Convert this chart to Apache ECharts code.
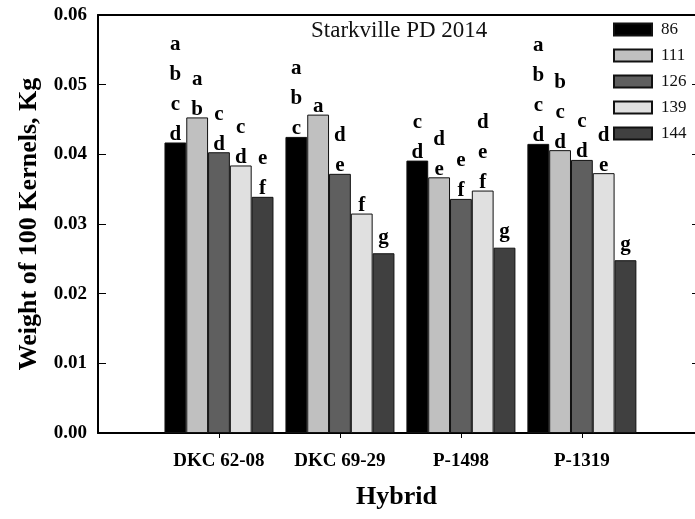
<!DOCTYPE html>
<html>
<head>
<meta charset="utf-8">
<script src="https://cdn.jsdelivr.net/npm/echarts@6/dist/echarts.min.js"></script>
<style>
html,body{margin:0;padding:0;background:#fff;}
#chart{width:695px;height:519px;}
</style>
</head>
<body>
<div id="chart"></div>
<script>
// ---- data ----
const categories = ['DKC 62-08', 'DKC 69-29', 'P-1498', 'P-1319'];
const seriesNames = ['86', '111', '126', '139', '144'];
const weight86  = [0.0417, 0.0425, 0.0391, 0.0415];
const weight111 = [0.0453, 0.0457, 0.0367, 0.0406];
const weight126 = [0.0403, 0.0372, 0.0336, 0.0392];
const weight139 = [0.0384, 0.0315, 0.0348, 0.0373];
const weight144 = [0.0339, 0.0258, 0.0266, 0.0248];
const letters86  = ['abcd', 'abc', 'cd', 'abcd'];
const letters111 = ['ab', 'a', 'de', 'bcd'];
const letters126 = ['cd', 'de', 'ef', 'cd'];
const letters139 = ['cd', 'f', 'def', 'de'];
const letters144 = ['ef', 'g', 'g', 'g'];
const yTicks = [0, 0.01, 0.02, 0.03, 0.04, 0.05, 0.06];

const values = [weight86, weight111, weight126, weight139, weight144];
const letters = [letters86, letters111, letters126, letters139, letters144];
const colors = ['#000000', '#c0c0c0', '#5f5f5f', '#e0e0e0', '#404040'];
const serif = "'Liberation Serif','Times New Roman',serif";
const catPos = categories.map((c, i) => i + 1);

const chart = echarts.init(document.getElementById('chart'), null, {renderer: 'canvas'});

const series = seriesNames.map((name, s) => ({
  name: name,
  type: 'bar',
  xAxisIndex: 0,
  yAxisIndex: 0,
  barWidth: 21.8,
  barGap: '0%',
  itemStyle: {color: colors[s], borderColor: '#111', borderWidth: 1},
  label: {
    show: true,
    position: 'top',
    distance: -7,
    fontFamily: serif,
    fontWeight: 'bold',
    fontSize: 21,
    lineHeight: 30,
    color: '#000',
    formatter: p => letters[s][p.dataIndex].split('').join('\n')
  },
  data: values[s].map((v, i) => {
    const lt = letters[s][i];
    const item = {value: [catPos[i], v]};
    if (lt[lt.length - 1] === 'g') item.label = {distance: 1};
    return item;
  })
}));

chart.setOption({
  animation: false,
  title: {
    text: 'Starkville PD 2014',
    left: 311, top: 19, padding: 0,
    textStyle: {fontFamily: serif, fontWeight: 'normal', fontSize: 23, color: '#111'}
  },
  legend: {
    orient: 'vertical',
    left: 613, top: 21, padding: 0,
    itemWidth: 38, itemHeight: 12, itemGap: 9,
    icon: 'rect',
    data: seriesNames,
    textStyle: {fontFamily: serif, fontSize: 17, color: '#111', padding: [0, 0, 0, 4]}
  },
  grid: {left: 98, top: 15, width: 597, height: 418, containLabel: false},
  xAxis: [{
    type: 'value', min: 0, max: 4.935,
    name: 'Hybrid', nameLocation: 'middle', nameGap: 51,
    nameTextStyle: {fontFamily: serif, fontWeight: 'bold', fontSize: 26, color: '#000'},
    axisLine: {show: true, lineStyle: {color: '#000', width: 2}},
    axisTick: {show: true, inside: false, length: 5, customValues: catPos, lineStyle: {color: '#000', width: 1}},
    axisLabel: {
      show: true, margin: 19, customValues: catPos,
      fontFamily: serif, fontWeight: 'bold', fontSize: 19, color: '#000',
      formatter: v => categories[Math.round(v) - 1] || ''
    },
    splitLine: {show: false}
  }, {
    type: 'value', min: 0, max: 4.935, position: 'top',
    axisLine: {show: true, onZero: false, lineStyle: {color: '#000', width: 2}},
    axisTick: {show: false}, axisLabel: {show: false}, splitLine: {show: false}
  }],
  yAxis: [{
    type: 'value', min: 0, max: 0.06, interval: 0.01,
    name: 'Weight of 100 Kernels, Kg', nameLocation: 'middle', nameGap: 56,
    nameTextStyle: {fontFamily: serif, fontWeight: 'bold', fontSize: 26, color: '#000'},
    axisLine: {show: true, lineStyle: {color: '#000', width: 2}},
    axisTick: {show: true, inside: true, length: 8, lineStyle: {color: '#000', width: 1}},
    axisLabel: {
      margin: 11, fontFamily: serif, fontWeight: 'bold', fontSize: 19, color: '#000',
      formatter: v => {
        const t = yTicks.find(k => Math.abs(k - v) < 1e-9);
        return (t !== undefined ? t : v).toFixed(2);
      }
    },
    splitLine: {show: false}
  }, {
    type: 'value', min: 0, max: 0.06, interval: 0.01, position: 'right',
    axisLine: {show: false, onZero: false},
    axisTick: {show: true, inside: true, length: 3, lineStyle: {color: '#000', width: 1}},
    axisLabel: {show: false}, splitLine: {show: false}
  }],
  series: series
});
</script>
</body>
</html>
